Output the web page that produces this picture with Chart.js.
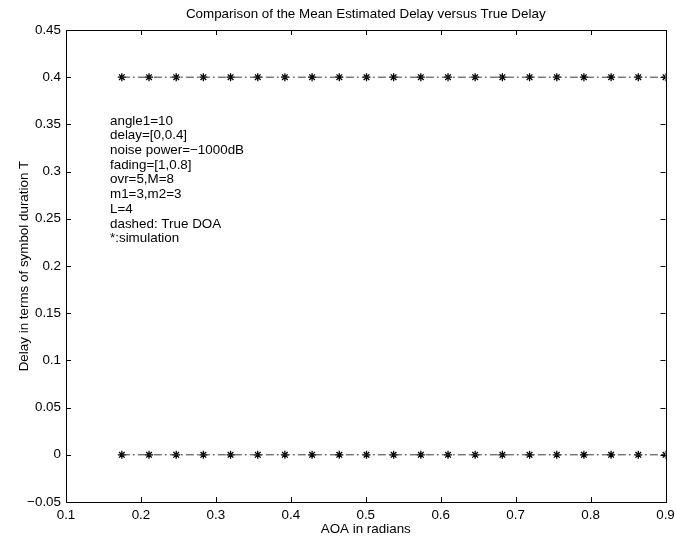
<!DOCTYPE html>
<html>
<head>
<meta charset="utf-8">
<title>Comparison of the Mean Estimated Delay versus True Delay</title>
<script src="https://cdn.jsdelivr.net/npm/chart.js@4"></script>
<style>
  html, body { margin: 0; padding: 0; background: #fff; }
  canvas { display: block; }
</style>
</head>
<body>
<canvas id="myChart" width="676" height="542"></canvas>
<script>
// angles of arrival (radians)
const aoa = [0.1745, 0.2108, 0.2471, 0.2833, 0.3196, 0.3559, 0.3921, 0.4284, 0.4647, 0.5010,
  0.5372, 0.5735, 0.6098, 0.6460, 0.6823, 0.7186, 0.7549, 0.7911, 0.8274, 0.8637, 0.9000];

// true delays (dash-dot lines)
const trueDelay1 = [0, 0, 0, 0, 0, 0, 0, 0, 0, 0, 0, 0, 0, 0, 0, 0, 0, 0, 0, 0, 0];
const trueDelay2 = [0.4, 0.4, 0.4, 0.4, 0.4, 0.4, 0.4, 0.4, 0.4, 0.4, 0.4,
  0.4, 0.4, 0.4, 0.4, 0.4, 0.4, 0.4, 0.4, 0.4, 0.4];

// simulated mean estimated delays (* markers)
const simDelay1 = [0, 0, 0, 0, 0, 0, 0, 0, 0, 0, 0, 0, 0, 0, 0, 0, 0, 0, 0, 0, 0];
const simDelay2 = [0.4, 0.4, 0.4, 0.4, 0.4, 0.4, 0.4, 0.4, 0.4, 0.4, 0.4,
  0.4, 0.4, 0.4, 0.4, 0.4, 0.4, 0.4, 0.4, 0.4, 0.4];

const xTickValues = [0.1, 0.2, 0.3, 0.4, 0.5, 0.6, 0.7, 0.8, 0.9];
const xTickLabels = ["0.1", "0.2", "0.3", "0.4", "0.5", "0.6", "0.7", "0.8", "0.9"];
const yTickValues = [-0.05, 0, 0.05, 0.1, 0.15, 0.2, 0.25, 0.3, 0.35, 0.4, 0.45];
const yTickLabels = ["\u22120.05", "0", "0.05", "0.1", "0.15", "0.2", "0.25", "0.3", "0.35", "0.4", "0.45"];

const titleText = "Comparison of the Mean Estimated Delay versus True Delay";
const notes = [
  "angle1=10",
  "delay=[0,0.4]",
  "noise power=\u22121000dB",
  "fading=[1,0.8]",
  "ovr=5,M=8",
  "m1=3,m2=3",
  "L=4",
  "dashed: True DOA",
  "*:simulation",
];

const toPoints = (ys) => aoa.map((x, i) => ({ x: x, y: ys[i] }));
const labelFor = (values, labels) => (v) => {
  const i = values.findIndex((t) => Math.abs(t - v) < 1e-9);
  return i >= 0 ? labels[i] : "";
};

const FONT = "'Liberation Sans', Arial, Helvetica, sans-serif";
Chart.defaults.font.family = FONT;
Chart.defaults.font.size = 13.4;
Chart.defaults.color = "#000";

// box, inward ticks, title over the axes and the text block, drawn the MATLAB way
const matlabAxes = {
  id: "matlabAxes",
  afterDraw(chart) {
    const { ctx, chartArea: a, scales } = chart;
    const len = 5;
    ctx.save();
    ctx.strokeStyle = "#000";
    ctx.lineWidth = 1;
    ctx.beginPath();
    xTickValues.forEach((v) => {
      const px = Math.round(scales.x.getPixelForValue(v)) + 0.5;
      ctx.moveTo(px, a.bottom); ctx.lineTo(px, a.bottom - len);
      ctx.moveTo(px, a.top); ctx.lineTo(px, a.top + len);
    });
    yTickValues.forEach((v) => {
      const py = Math.round(scales.y.getPixelForValue(v)) + 0.5;
      ctx.moveTo(a.left, py); ctx.lineTo(a.left + len, py);
      ctx.moveTo(a.right, py); ctx.lineTo(a.right - len, py);
    });
    ctx.stroke();
    ctx.strokeRect(Math.round(a.left) + 0.5, Math.round(a.top) + 0.5,
      Math.round(a.right - a.left), Math.round(a.bottom - a.top));

    ctx.fillStyle = "#000";
    ctx.font = "13.4px " + FONT;
    ctx.textBaseline = "middle";
    ctx.textAlign = "center";
    ctx.fillText(titleText, (a.left + a.right) / 2, 14);
    ctx.textAlign = "left";
    notes.forEach((t, i) => ctx.fillText(t, 110, 121 + i * 14.7));
    ctx.restore();
  },
};

new Chart(document.getElementById("myChart"), {
  type: "scatter",
  data: {
    datasets: [
      {
        label: "True delay 1",
        data: toPoints(trueDelay1),
        showLine: true,
        borderColor: "#3a3a3a",
        borderWidth: 1,
        borderDash: [8, 3, 2, 3],
        pointRadius: 0,
        clip: 0,
      },
      {
        label: "True delay 2",
        data: toPoints(trueDelay2),
        showLine: true,
        borderColor: "#3a3a3a",
        borderWidth: 1,
        borderDash: [8, 3, 2, 3],
        pointRadius: 0,
        clip: 0,
      },
      {
        label: "Simulation 1",
        data: toPoints(simDelay1),
        showLine: false,
        pointStyle: "star",
        pointRadius: 4,
        pointBorderWidth: 1.3,
        borderColor: "#000",
        backgroundColor: "#000",
        clip: 0,
      },
      {
        label: "Simulation 2",
        data: toPoints(simDelay2),
        showLine: false,
        pointStyle: "star",
        pointRadius: 4,
        pointBorderWidth: 1.3,
        borderColor: "#000",
        backgroundColor: "#000",
        clip: 0,
      },
    ],
  },
  options: {
    responsive: false,
    animation: false,
    devicePixelRatio: 1,
    layout: { padding: { left: 0, right: 10.5, top: 30, bottom: 0 } },
    plugins: {
      legend: { display: false },
      tooltip: { enabled: false },
      title: { display: false },
    },
    scales: {
      x: {
        type: "linear",
        min: 0.1,
        max: 0.9,
        afterBuildTicks: (s) => { s.ticks = xTickValues.map((v) => ({ value: v })); },
        afterFit: (s) => { s.height = 40; s.paddingLeft = 0; s.paddingRight = 0; },
        grid: { display: false, drawTicks: false },
        border: { display: false },
        ticks: {
          padding: 5,
          maxRotation: 0,
          autoSkip: false,
          callback: labelFor(xTickValues, xTickLabels),
        },
        title: {
          display: true,
          text: "AOA in radians",
          padding: { top: 0, bottom: 5 },
        },
      },
      y: {
        type: "linear",
        min: -0.05,
        max: 0.45,
        afterBuildTicks: (s) => { s.ticks = yTickValues.map((v) => ({ value: v })); },
        afterFit: (s) => { s.width = 66; s.paddingTop = 0; s.paddingBottom = 0; },
        grid: { display: false, drawTicks: false },
        border: { display: false },
        ticks: {
          padding: 5,
          autoSkip: false,
          callback: labelFor(yTickValues, yTickLabels),
        },
        title: {
          display: true,
          text: "Delay in terms of symbol duration T",
          padding: { top: 16, bottom: 0 },
        },
      },
    },
  },
  plugins: [matlabAxes],
});
</script>
</body>
</html>
